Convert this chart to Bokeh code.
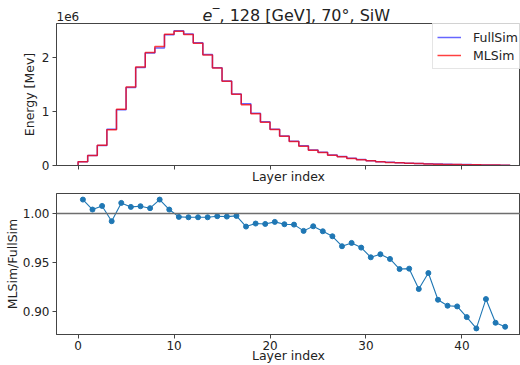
from bokeh.plotting import figure
from bokeh.models import Range1d, FixedTicker, Span, Legend, LegendItem, NumeralTickFormatter
from bokeh.core.properties import value
from bokeh.layouts import column
from bokeh.embed import file_html
from bokeh.resources import INLINE

# ---------------- data ----------------
layer_edges = [0, 1, 2, 3, 4, 5, 6, 7, 8, 9, 10, 11, 12, 13, 14, 15, 16, 17, 18, 19, 20,
               21, 22, 23, 24, 25, 26, 27, 28, 29, 30, 31, 32, 33, 34, 35, 36, 37, 38, 39,
               40, 41, 42, 43, 44, 45]
full_sim = [68000, 185000, 372000, 668000, 1030000, 1440000, 1810000, 2080000, 2170000,
            2415000, 2490000, 2430000, 2268000, 2050000, 1806000, 1562000, 1320000,
            1140000, 965000, 810000, 672000, 546000, 448000, 364000, 288000, 245000,
            195000, 165000, 133000, 109000, 90000, 71000, 58000, 52000, 43000, 38000,
            32000, 27500, 22500, 20000, 16500, 13500, 11000, 9000, 6800]
ml_sim = [69000, 186000, 375000, 663000, 1041000, 1450000, 1822000, 2090000, 2200000,
          2425000, 2482000, 2421000, 2259000, 2042000, 1801000, 1557000, 1317000,
          1125000, 955000, 801000, 666000, 540000, 443000, 357000, 284000, 240000,
          190000, 160000, 129000, 105000, 86000, 68000, 55000, 49000, 40500, 35000,
          30000, 25000, 20500, 18100, 14800, 11900, 10000, 8000, 6000]
ratio_x = [0.5, 1.5, 2.5, 3.5, 4.5, 5.5, 6.5, 7.5, 8.5, 9.5, 10.5, 11.5, 12.5, 13.5, 14.5,
           15.5, 16.5, 17.5, 18.5, 19.5, 20.5, 21.5, 22.5, 23.5, 24.5, 25.5, 26.5, 27.5,
           28.5, 29.5, 30.5, 31.5, 32.5, 33.5, 34.5, 35.5, 36.5, 37.5, 38.5, 39.5, 40.5,
           41.5, 42.5, 43.5, 44.5]
ratio = [1.0143, 1.0041, 1.0078, 0.9922, 1.0109, 1.0068, 1.0075, 1.0055, 1.0143, 1.0041,
         0.9966, 0.9962, 0.9962, 0.9962, 0.9973, 0.9969, 0.9976, 0.9867, 0.9898, 0.9894,
         0.9915, 0.9891, 0.9887, 0.9823, 0.9870, 0.9819, 0.9768, 0.9666, 0.9700, 0.9652,
         0.9553, 0.9584, 0.9536, 0.9433, 0.9437, 0.9229, 0.9392, 0.9119, 0.9058, 0.9051,
         0.8942, 0.8826, 0.9126, 0.8884, 0.8843]
x_ticks = [0, 10, 20, 30, 40]
energy_ticks = [0, 1000000, 2000000]
energy_tick_labels = {0: "0", 1000000: "1", 2000000: "2"}
ratio_ticks = [0.90, 0.95, 1.00]
title_parts = ["e", "\u2212", ", 128 [GeV], 70\u00b0, SiW"]
offset_label = "1e6"

FONT = "DejaVu Sans"
AX = "#444444"
TXT = "#222222"


def style_axes(p):
    for ax in (p.xaxis[0], p.yaxis[0]):
        ax.axis_line_color = AX
        ax.major_tick_line_color = AX
        ax.major_tick_in = 0
        ax.major_tick_out = 4
        ax.minor_tick_line_color = None
        ax.major_label_text_font = FONT
        ax.major_label_text_font_size = "12px"
        ax.major_label_text_color = TXT
        ax.axis_label_text_font = FONT
        ax.axis_label_text_font_size = "12.5px"
        ax.axis_label_text_font_style = "normal"
        ax.axis_label_text_color = TXT
    p.xgrid.visible = False
    p.ygrid.visible = False
    p.outline_line_color = AX
    p.background_fill_color = "white"
    p.border_fill_color = "white"


# ---------------- header strip (title + offset text); its frame is aligned to x = 56..520 px ----
head = figure(width=520, height=23, output_backend="svg", toolbar_location=None,
              title=None, x_range=Range1d(56, 520), y_range=Range1d(0, 23),
              min_border=0, x_axis_type=None, y_axis_type=None)
head.xgrid.visible = False
head.ygrid.visible = False
head.outline_line_color = None
head.text(x=[56], y=[7], text=[offset_label], text_font=value(FONT),
          text_font_size="12px", text_color=TXT, text_baseline="alphabetic")
head.text(x=[202], y=[8.5], text=[title_parts[0]], text_font=value(FONT),
          text_font_size="16px", text_font_style="italic", text_color=TXT,
          text_baseline="alphabetic")
head.text(x=[211], y=[16], text=[title_parts[1]], text_font=value(FONT),
          text_font_size="11px", text_color=TXT, text_baseline="alphabetic")
head.text(x=[219], y=[8.5], text=[title_parts[2]], text_font=value(FONT),
          text_font_size="16px", text_color=TXT, text_baseline="alphabetic")

# ---------------- top panel ----------------
top = figure(width=520, height=165, output_backend="svg", toolbar_location=None,
             title=None,
             x_range=Range1d(-2.25, 46.1), y_range=Range1d(0, 2625000),
             min_border_top=0, min_border_bottom=23, min_border_left=56, min_border_right=0)
style_axes(top)
step_x = [0] + layer_edges
r_full = top.step(step_x, [0] + full_sim + [0], mode="after",
                  line_color="blue", line_alpha=0.6, line_width=1.5)
r_ml = top.step(step_x, [0] + ml_sim + [0], mode="after",
                line_color="red", line_alpha=0.75, line_width=1.5)
top.xaxis.ticker = FixedTicker(ticks=x_ticks)
top.xaxis.major_label_text_font_size = "0px"
top.xaxis.major_label_standoff = 0
top.xaxis.axis_label = "Layer index"
top.xaxis.axis_label_standoff = -1
top.yaxis.ticker = FixedTicker(ticks=energy_ticks)
top.yaxis.major_label_overrides = energy_tick_labels
top.yaxis.major_label_standoff = 3
top.yaxis.axis_label = "Energy [Mev]"
top.yaxis.axis_label_standoff = 2

legend = Legend(items=[LegendItem(label="FullSim", renderers=[r_full]),
                       LegendItem(label="MLSim", renderers=[r_ml])],
                location=(376, 96), label_text_font=FONT, label_text_font_size="12.5px",
                label_text_color=TXT, glyph_width=24, glyph_height=18, label_standoff=12,
                padding=4, spacing=0, margin=0, border_line_color="#cccccc",
                background_fill_alpha=0.8)
top.add_layout(legend)

# ---------------- ratio panel ----------------
bot = figure(width=520, height=177, output_backend="svg", toolbar_location=None,
             title=None,
             x_range=Range1d(-2.25, 46.1), y_range=Range1d(0.8764, 1.0205),
             min_border_top=5, min_border_bottom=30, min_border_left=56, min_border_right=0)
style_axes(bot)
bot.add_layout(Span(location=1.0, dimension="width", line_color="#6e6e6e", line_width=1.6))
bot.line(ratio_x, ratio, line_color="#1f77b4", line_width=1.1)
bot.scatter(ratio_x, ratio, size=5, fill_color="#1f77b4", line_color="#1f77b4")
bot.xaxis.ticker = FixedTicker(ticks=x_ticks)
bot.xaxis.major_label_standoff = 2
bot.xaxis.axis_label = "Layer index"
bot.xaxis.axis_label_standoff = -5
bot.yaxis.ticker = FixedTicker(ticks=ratio_ticks)
bot.yaxis.formatter = NumeralTickFormatter(format="0.00")
bot.yaxis.major_label_standoff = 3
bot.yaxis.axis_label = "MLSim/FullSim"
bot.yaxis.axis_label_standoff = 0

layout = column(head, top, bot, spacing=0)
open("out.html", "w").write(file_html(layout, INLINE))
